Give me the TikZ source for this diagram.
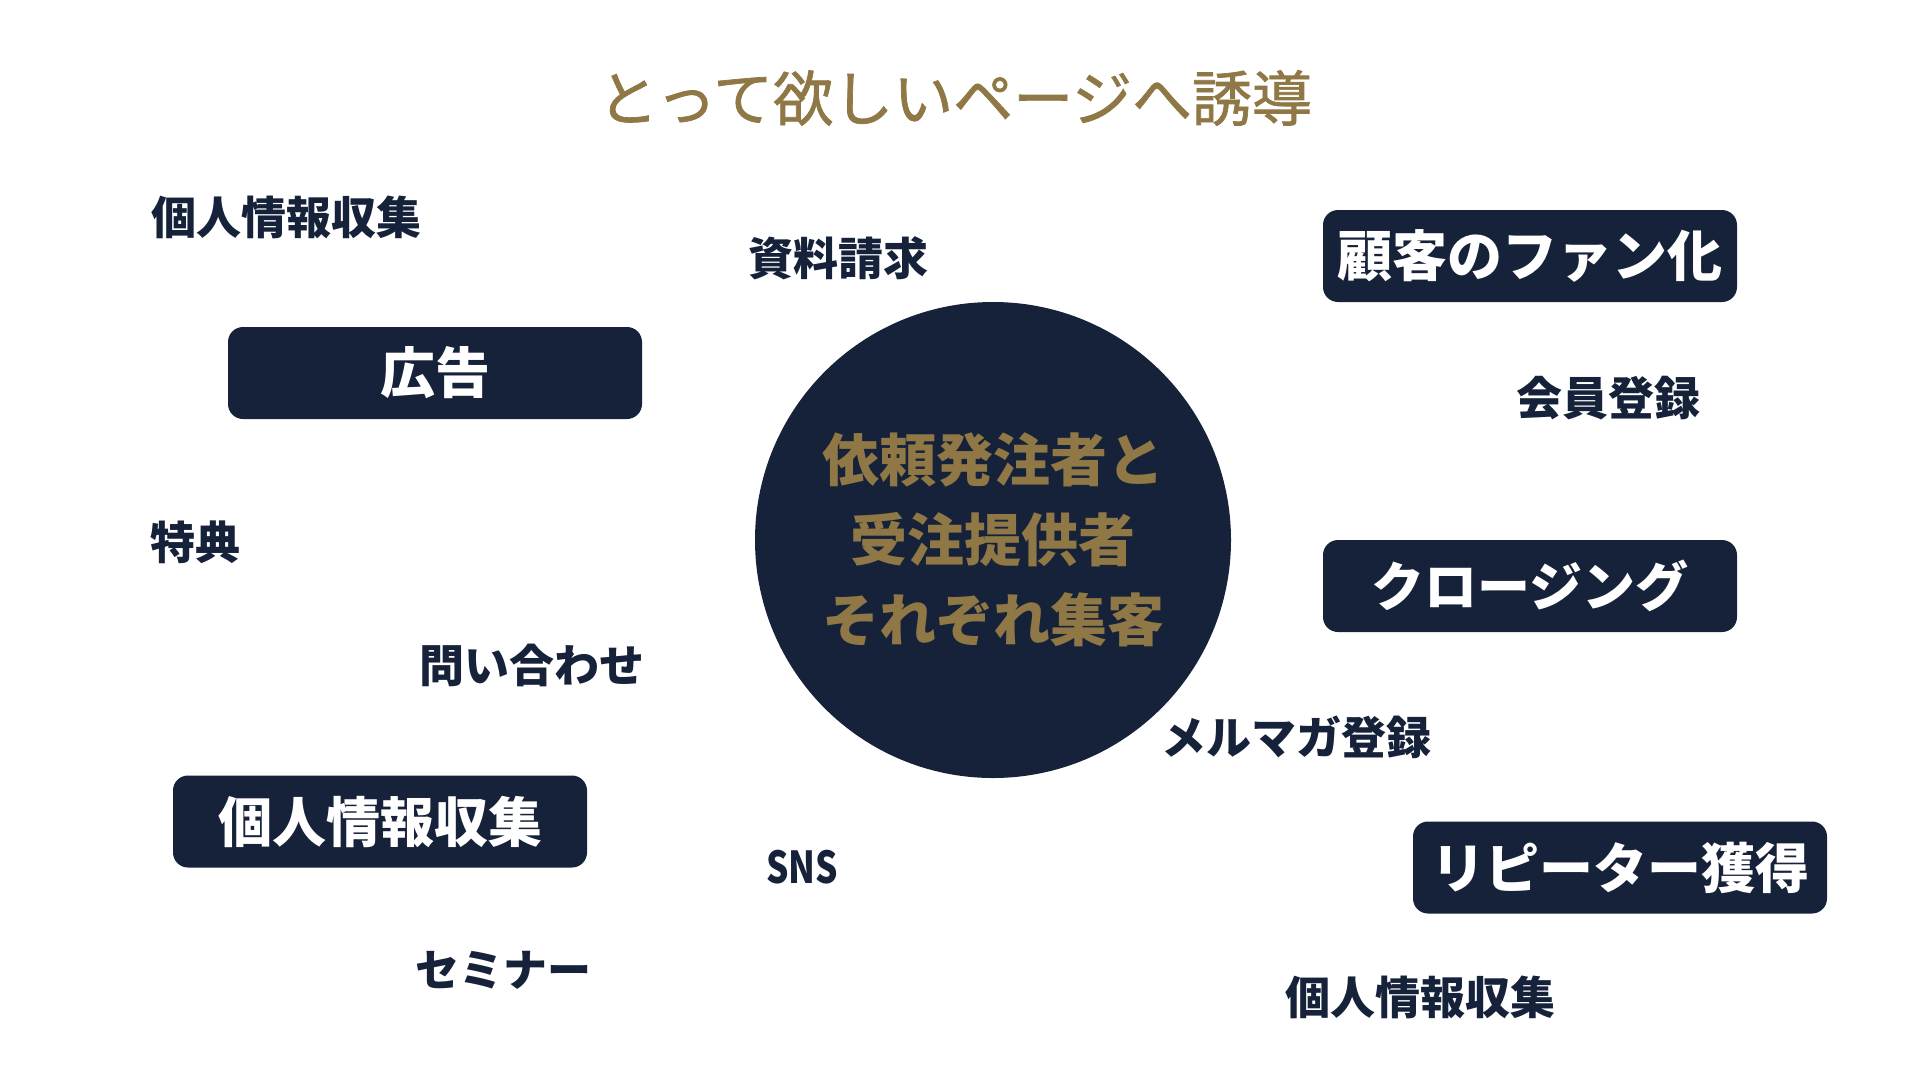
\documentclass[tikz,border=0pt]{standalone}
\usepackage{fontspec}
\setmainfont{Noto Sans CJK JP}
\usepackage{tikz}

\begin{document}
\begin{tikzpicture}
	[x=1pt,y=-1pt,
	%Styles
	headline/.style={inner sep=0pt,text=gold,font=\addfontfeature{FakeBold=1.2}\fontsize{60}{60}\selectfont},
	hub/.style={circle,fill=navy,minimum size=476pt,inner sep=0pt,align=center,text=gold,font=\bfseries\fontsize{57}{80}\selectfont},
	keybox/.style={rounded corners=15pt,fill=navy,text=white,inner sep=0pt,minimum width=414pt,minimum height=92pt,font=\bfseries\fontsize{#1}{#1}\selectfont},
	plain/.style={inner sep=0pt,text=navy,font=\bfseries\fontsize{#1}{#1}\selectfont}
	]
	
	%Colors
	\definecolor{navy}{HTML}{16223A}	%circle and boxes
	\definecolor{gold}{HTML}{8F7845}	%title and circle text
	
	\useasboundingbox (0,0) rectangle (1920,1080);
	
	%The graphic
	\node[headline] (title) at (955,98) {とって欲しいページへ誘導};
	
	\node[hub] (hub) at (993,540) {依頼発注者と\\受注提供者\\それぞれ集客};
	
	\node[keybox=55] (ad) at (435,373) {広告};
	\node[keybox=54] (collect) at (380,821.5) {個人情報収集};
	\node[keybox=55] (fan) at (1530,256) {顧客のファン化};
	\node[keybox=53] (closing) at (1530,586) {クロージング};
	\node[keybox=54] (repeat) at (1620,867.5) {リピーター獲得\hspace{24pt}};
	
	\node[plain=45] (infotop) at (286,217) {個人情報収集};
	\node[plain=45] (request) at (838,258) {資料請求};
	\node[plain=46] (member) at (1608,398) {会員登録};
	\node[plain=45] (bonus) at (195,542) {特典};
	\node[plain=45] (contact) at (532,665) {問い合わせ};
	\node[plain=45] (mail) at (1296,737) {メルマガ登録};
	\node[plain=44] (sns) at (802,867) {\scalebox{0.8}[1]{SNS}};
	\node[plain=44] (seminar) at (503,970) {セミナー};
	\node[plain=45] (infobottom) at (1420,997) {個人情報収集};
\end{tikzpicture}
\end{document}
